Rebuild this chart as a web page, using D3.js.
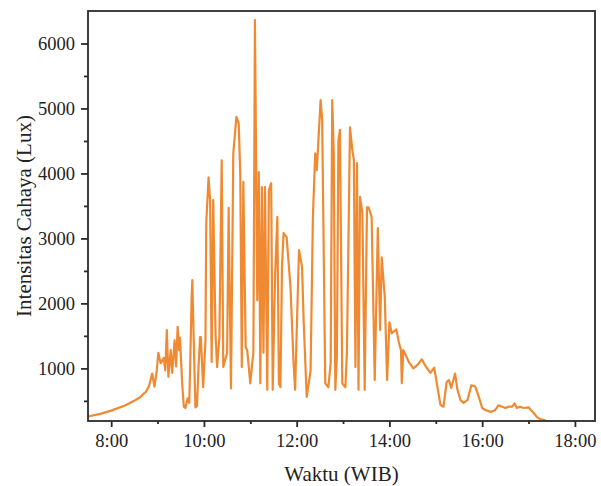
<!DOCTYPE html>
<html>
<head>
<meta charset="utf-8">
<script src="https://cdn.jsdelivr.net/npm/d3@7"></script>
<style>
  body { margin: 0; background: #fff; }
  text { font-family: "Liberation Serif", "Times New Roman", serif; fill: #222; }
</style>
</head>
<body>
<svg id="chart" width="601" height="486"></svg>
<script>
// waktu pengukuran (WIB) and intensitas cahaya (lux)
var waktu = ["7:30","7:46","8:00","8:18","8:31","8:38","8:41","8:45","8:49","8:53","8:56","8:59",
  "9:01","9:04","9:08","9:10","9:12","9:14","9:17","9:19","9:22","9:24","9:26","9:28","9:29","9:32",
  "9:34","9:36","9:39","9:41","9:42","9:44","9:45","9:47","9:49","9:51","9:53","9:55","9:56","9:59",
  "10:02","10:03","10:06","10:08","10:10","10:12","10:15","10:17","10:20","10:23","10:25","10:30",
  "10:32","10:35","10:38","10:42","10:45","10:47","10:49","10:51","10:54","10:56","11:00","11:02",
  "11:04","11:06","11:09","11:11","11:13","11:15","11:17","11:19","11:22","11:24","11:27","11:29",
  "11:32","11:35","11:37","11:39","11:41","11:43","11:47","11:50","11:52","11:56","11:58","12:03",
  "12:07","12:09","12:13","12:18","12:21","12:24","12:26","12:31","12:33","12:37","12:41","12:44",
  "12:46","12:48","12:50","12:52","12:54","12:56","12:59","13:03","13:05","13:09","13:12","13:14",
  "13:16","13:18","13:20","13:22","13:25","13:28","13:31","13:33","13:37","13:41","13:45","13:48",
  "13:50","13:54","13:57","14:00","14:03","14:09","14:12","14:15","14:16","14:18","14:21","14:25",
  "14:31","14:36","14:42","14:47","14:53","14:58","15:02","15:06","15:10","15:14","15:17","15:20",
  "15:25","15:28","15:32","15:36","15:41","15:46","15:51","15:54","15:57","16:00","16:04","16:11",
  "16:17","16:21","16:26","16:30","16:34","16:39","16:42","16:45","16:49","16:54","17:00","17:03",
  "17:07","17:11","17:15","17:22"]

var lux = [260,300,350,430,510,560,600,640,730,920,720,970,
  1240,1080,1160,970,1590,870,1280,930,1430,1030,1640,1280,1470,740,
  410,390,540,470,930,2050,2360,1330,400,420,1020,1480,1480,710,
  1430,3230,3940,3590,1100,3590,1540,1020,1480,4200,1020,1240,
  3470,690,4310,4870,4770,4000,1020,3870,1330,1280,770,1020,
  1240,6360,2050,4020,770,3790,1240,3790,670,3740,3850,670,
  2400,3330,770,710,2560,3080,3020,2560,2250,1080,670,2820,
  2560,1740,560,970,3330,4310,4050,5130,4820,770,710,1080,
  5130,4310,670,1170,4510,4670,770,710,1240,4710,4360,4210,
  1020,4160,670,3640,3390,670,3480,3480,3330,820,3160,1590,
  2710,2100,820,1710,1540,1600,1410,1280,770,1280,1210,1100,
  1000,1050,1140,1030,930,1010,720,440,410,790,820,700,
  920,670,510,470,510,740,720,620,510,390,360,330,
  360,430,410,390,410,410,460,390,410,390,400,360,
  310,250,220,200]

var xMajor = ["8:00","10:00","12:00","14:00","16:00","18:00"]
var xMinor = ["9:00","11:00","13:00","15:00","17:00"]
var yMajor = [1000,2000,3000,4000,5000,6000]
var yMinor = [500,1500,2500,3500,4500,5500]

function toMin(s) {
    var p = s.split(":")
    return (+p[0]) * 60 + (+p[1])
}
function fmtMin(m) {
    var h = Math.floor(m / 60), mm = m % 60
    return h + ":" + (mm < 10 ? "0" + mm : mm)
}

var data = waktu.map(function(d, i) { return {t: toMin(d), v: lux[i]} })

var svg = d3.select("#chart")
// plot box edges
var pL = 88, pR = 595, pT = 11, pB = 421

var x = d3.scaleLinear().domain([450, 1106]).range([pL, pR])
var y = d3.scaleLinear().domain([190, 6500]).range([pB, pT])

// the data line
var line = d3.line()
    .x(function(d) { return x(d.t) })
    .y(function(d) { return y(d.v) })

svg.append("path")
    .datum(data)
    .attr("d", line)
    .attr("fill", "none")
    .attr("stroke", "#ef8a32")
    .attr("stroke-width", 2.2)
    .attr("stroke-linejoin", "round")

// frame
svg.append("rect")
    .attr("x", pL).attr("y", pT)
    .attr("width", pR - pL).attr("height", pB - pT)
    .attr("fill", "none")
    .attr("stroke", "#2a2a2a")
    .attr("stroke-width", 1.8)

// x axis
var xAxis = d3.axisBottom(x)
    .tickValues(xMajor.map(toMin))
    .tickFormat(fmtMin)
    .tickSize(6)
    .tickPadding(7)
svg.append("g").attr("transform", "translate(0," + pB + ")").call(xAxis)
svg.append("g").attr("transform", "translate(0," + pB + ")")
    .call(d3.axisBottom(x).tickValues(xMinor.map(toMin)).tickSize(3).tickFormat(""))

// y axis
var yAxis = d3.axisLeft(y)
    .tickValues(yMajor)
    .tickFormat(d3.format("d"))
    .tickSize(7)
    .tickPadding(6)
svg.append("g").attr("transform", "translate(" + pL + ",0)").call(yAxis)
svg.append("g").attr("transform", "translate(" + pL + ",0)")
    .call(d3.axisLeft(y).tickValues(yMinor).tickSize(4).tickFormat(""))

svg.selectAll(".domain").remove()
svg.selectAll(".tick line").attr("stroke", "#2a2a2a").attr("stroke-width", 1.8)
svg.selectAll(".tick text")
    .style("font-family", "'Liberation Serif', 'Times New Roman', serif")
    .style("font-size", "18.5px")
    .attr("fill", "#222")

// titles
svg.append("text")
    .attr("x", (pL + pR) / 2)
    .attr("y", 481)
    .attr("text-anchor", "middle")
    .style("font-size", "21px")
    .text("Waktu (WIB)")

svg.append("text")
    .attr("transform", "translate(31," + (pT + pB) / 2 + ") rotate(-90)")
    .attr("text-anchor", "middle")
    .style("font-size", "21px")
    .text("Intensitas Cahaya (Lux)")
</script>
</body>
</html>
